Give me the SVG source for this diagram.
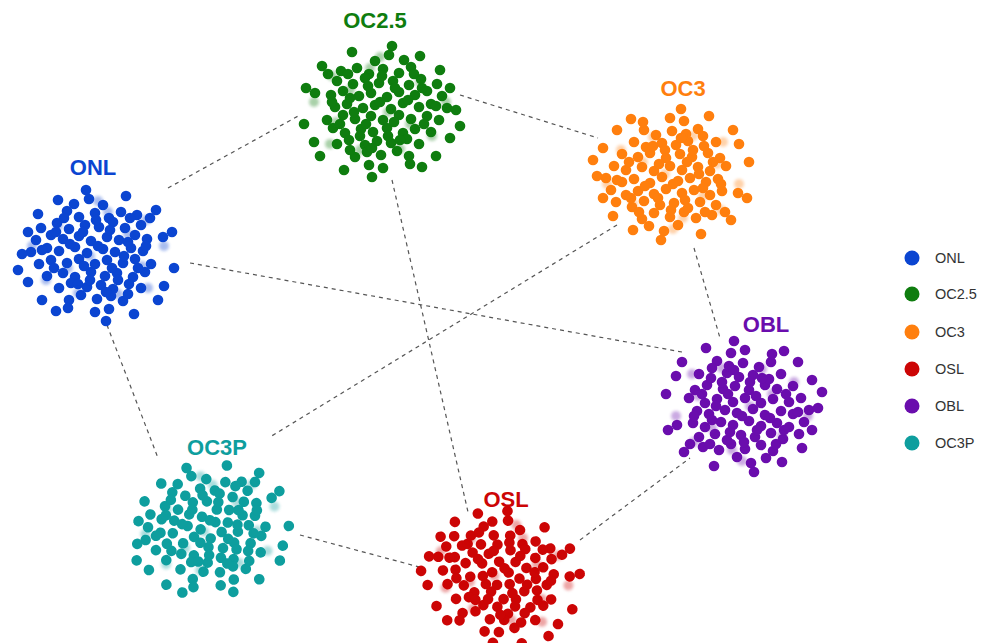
<svg xmlns="http://www.w3.org/2000/svg" width="987" height="643" viewBox="0 0 987 643">
<style>
.lbl{font-family:"Liberation Sans",Arial,sans-serif;font-weight:bold;font-size:22px;text-anchor:middle}
.leg{font-family:"Liberation Sans",Arial,sans-serif;font-size:14.5px;fill:#333}
.conn line{stroke:#555;stroke-width:1.2;stroke-dasharray:4 4;fill:none}
.fade{opacity:.35}
</style>
<defs>
<filter id="blur" x="-20%" y="-20%" width="140%" height="140%"><feGaussianBlur stdDeviation="1.4"/></filter>
<g id="dots">
<g>
<circle cx="-24" cy="-52" r="5.3"/><circle cx="-9" cy="-57" r="5.3"/><circle cx="5" cy="-51" r="5.3"/>
<circle cx="-31" cy="-45" r="5.3"/><circle cx="-19" cy="-39" r="5.3"/><circle cx="-3" cy="-43" r="5.3"/><circle cx="11" cy="-38" r="5.3"/><circle cx="23" cy="-44" r="5.3"/><circle cx="39" cy="-41" r="5.3"/>
<circle cx="-57" cy="-28" r="5.3"/><circle cx="-41" cy="-33" r="5.3"/><circle cx="-29" cy="-27" r="5.3"/><circle cx="-13" cy="-31" r="5.3"/><circle cx="1" cy="-29" r="5.3"/><circle cx="15" cy="-34" r="5.3"/><circle cx="27" cy="-28" r="5.3"/><circle cx="43" cy="-31" r="5.3"/>
<circle cx="-47" cy="-21" r="5.3"/><circle cx="-35" cy="-17" r="5.3"/><circle cx="-19" cy="-20" r="5.3"/><circle cx="-7" cy="-15" r="5.3"/><circle cx="9" cy="-19" r="5.3"/><circle cx="21" cy="-16" r="5.3"/><circle cx="37" cy="-21" r="5.3"/><circle cx="49" cy="-17" r="5.3"/><circle cx="65" cy="-19" r="5.3"/>
<circle cx="-67" cy="-4" r="5.3"/><circle cx="-51" cy="-8" r="5.3"/><circle cx="-39" cy="-5" r="5.3"/><circle cx="-23" cy="-9" r="5.3"/><circle cx="-11" cy="-3" r="5.3"/><circle cx="5" cy="-7" r="5.3"/><circle cx="17" cy="-4" r="5.3"/><circle cx="33" cy="-8" r="5.3"/><circle cx="45" cy="-5" r="5.3"/>
<circle cx="-59" cy="8" r="5.3"/><circle cx="-47" cy="4" r="5.3"/><circle cx="-31" cy="7" r="5.3"/><circle cx="-19" cy="3" r="5.3"/><circle cx="-3" cy="8" r="5.3"/><circle cx="9" cy="4" r="5.3"/><circle cx="25" cy="7" r="5.3"/><circle cx="37" cy="3" r="5.3"/><circle cx="53" cy="8" r="5.3"/>
<circle cx="-51" cy="20" r="5.3"/><circle cx="-35" cy="17" r="5.3"/><circle cx="-23" cy="21" r="5.3"/><circle cx="-7" cy="16" r="5.3"/><circle cx="7" cy="20" r="5.3"/><circle cx="19" cy="17" r="5.3"/><circle cx="35" cy="21" r="5.3"/><circle cx="47" cy="16" r="5.3"/>
<circle cx="-39" cy="32" r="5.3"/><circle cx="-27" cy="27" r="5.3"/><circle cx="-11" cy="31" r="5.3"/><circle cx="3" cy="29" r="5.3"/><circle cx="15" cy="33" r="5.3"/><circle cx="31" cy="28" r="5.3"/><circle cx="43" cy="32" r="5.3"/>
<circle cx="-29" cy="44" r="5.3"/><circle cx="-17" cy="39" r="5.3"/><circle cx="-1" cy="43" r="5.3"/><circle cx="13" cy="40" r="5.3"/><circle cx="25" cy="45" r="5.3"/>
<circle cx="-3" cy="56" r="5.3"/><circle cx="11" cy="53" r="5.3"/>
<circle cx="-42" cy="-24" r="5.3"/><circle cx="-15" cy="-24" r="5.3"/><circle cx="12" cy="-26" r="5.3"/><circle cx="30" cy="-14" r="5.3"/><circle cx="-28" cy="-12" r="5.3"/><circle cx="0" cy="-10" r="5.3"/><circle cx="26" cy="0" r="5.3"/><circle cx="-14" cy="10" r="5.3"/><circle cx="14" cy="12" r="5.3"/><circle cx="-44" cy="12" r="5.3"/><circle cx="40" cy="12" r="5.3"/><circle cx="-20" cy="28" r="5.3"/><circle cx="8" cy="36" r="5.3"/><circle cx="30" cy="38" r="5.3"/><circle cx="-34" cy="-38" r="5.3"/><circle cx="32" cy="-38" r="5.3"/><circle cx="-2" cy="-36" r="5.3"/><circle cx="48" cy="-10" r="5.3"/><circle cx="-56" cy="-6" r="5.3"/><circle cx="-8" cy="24" r="5.3"/><circle cx="20" cy="24" r="5.3"/><circle cx="-30" cy="52" r="5.3"/><circle cx="52" cy="-38" r="5.3"/>
<circle cx="-76" cy="-2" r="5.3"/><circle cx="-70" cy="-24" r="5.3"/><circle cx="-70" cy="26" r="5.3"/><circle cx="-60" cy="-42" r="5.3"/><circle cx="-56" cy="44" r="5.3"/><circle cx="-40" cy="-56" r="5.3"/><circle cx="-42" cy="55" r="5.3"/><circle cx="-12" cy="-66" r="5.3"/><circle cx="8" cy="65" r="5.3"/><circle cx="28" cy="-60" r="5.3"/><circle cx="36" cy="58" r="5.3"/><circle cx="58" cy="-46" r="5.3"/><circle cx="60" cy="44" r="5.3"/><circle cx="74" cy="-24" r="5.3"/><circle cx="76" cy="12" r="5.3"/><circle cx="-80" cy="14" r="5.3"/><circle cx="66" cy="30" r="5.3"/><circle cx="-62" cy="-16" r="5.3"/>
</g>
<g class="fade" filter="url(#blur)">
<circle cx="-40" cy="-30" r="5"/><circle cx="30" cy="-22" r="5"/><circle cx="-20" cy="37" r="5"/><circle cx="44" cy="10" r="5"/><circle cx="10" cy="-44" r="5"/><circle cx="-52" cy="24" r="5"/><circle cx="20" cy="38" r="5"/><circle cx="-8" cy="0" r="5"/><circle cx="48" cy="-36" r="5"/><circle cx="-30" cy="12" r="5"/><circle cx="66" cy="-10" r="5"/><circle cx="0" cy="-55" r="5"/><circle cx="-66" cy="-10" r="5"/><circle cx="50" cy="32" r="5"/>
</g>
</g>
</defs>
<rect width="987" height="643" fill="#fff"/>
<g id="connectors" class="conn">
<line x1="168" y1="188" x2="300" y2="115"/>
<line x1="460" y1="95" x2="598" y2="138"/>
<line x1="190" y1="263" x2="682" y2="352"/>
<line x1="617" y1="225" x2="270" y2="437"/>
<line x1="392" y1="180" x2="468" y2="512"/>
<line x1="694" y1="248" x2="720" y2="338"/>
<line x1="107" y1="325" x2="158" y2="458"/>
<line x1="300" y1="535" x2="423" y2="568"/>
<line x1="580" y1="540" x2="690" y2="458"/>
</g>
<g id="node-ONL" fill="#0b45d1">
<use href="#dots" transform="translate(98,256)"/>
<text class="lbl" x="93" y="175">ONL</text>
</g>
<g id="node-OC2.5" fill="#0f7d0f">
<use href="#dots" transform="translate(380,112) scale(-1,1)"/>
<text class="lbl" x="375" y="28">OC2.5</text>
</g>
<g id="node-OC3" fill="#ff7f0e">
<use href="#dots" transform="translate(673,174) scale(1,-1)"/>
<text class="lbl" x="683" y="96">OC3</text>
</g>
<g id="node-OBL" fill="#6a0dad">
<use href="#dots" transform="translate(742,406) scale(-1,-1)"/>
<text class="lbl" x="766" y="332">OBL</text>
</g>
<g id="node-OC3P" fill="#0e9e9e">
<use href="#dots" transform="translate(212,530) rotate(-12)"/>
<text class="lbl" x="217" y="455">OC3P</text>
</g>
<g id="node-OSL" fill="#cc0505">
<use href="#dots" transform="translate(502,578) rotate(15)"/>
<text class="lbl" x="506" y="507">OSL</text>
</g>
<g id="legend">
<circle cx="912" cy="258" r="7.5" fill="#0b45d1"/><text class="leg" x="935" y="263">ONL</text>
<circle cx="912" cy="294" r="7.5" fill="#0f7d0f"/><text class="leg" x="935" y="299">OC2.5</text>
<circle cx="912" cy="332" r="7.5" fill="#ff7f0e"/><text class="leg" x="935" y="337">OC3</text>
<circle cx="912" cy="369" r="7.5" fill="#cc0505"/><text class="leg" x="935" y="374">OSL</text>
<circle cx="912" cy="406" r="7.5" fill="#6a0dad"/><text class="leg" x="935" y="411">OBL</text>
<circle cx="912" cy="443" r="7.5" fill="#0e9e9e"/><text class="leg" x="935" y="448">OC3P</text>
</g>
</svg>
